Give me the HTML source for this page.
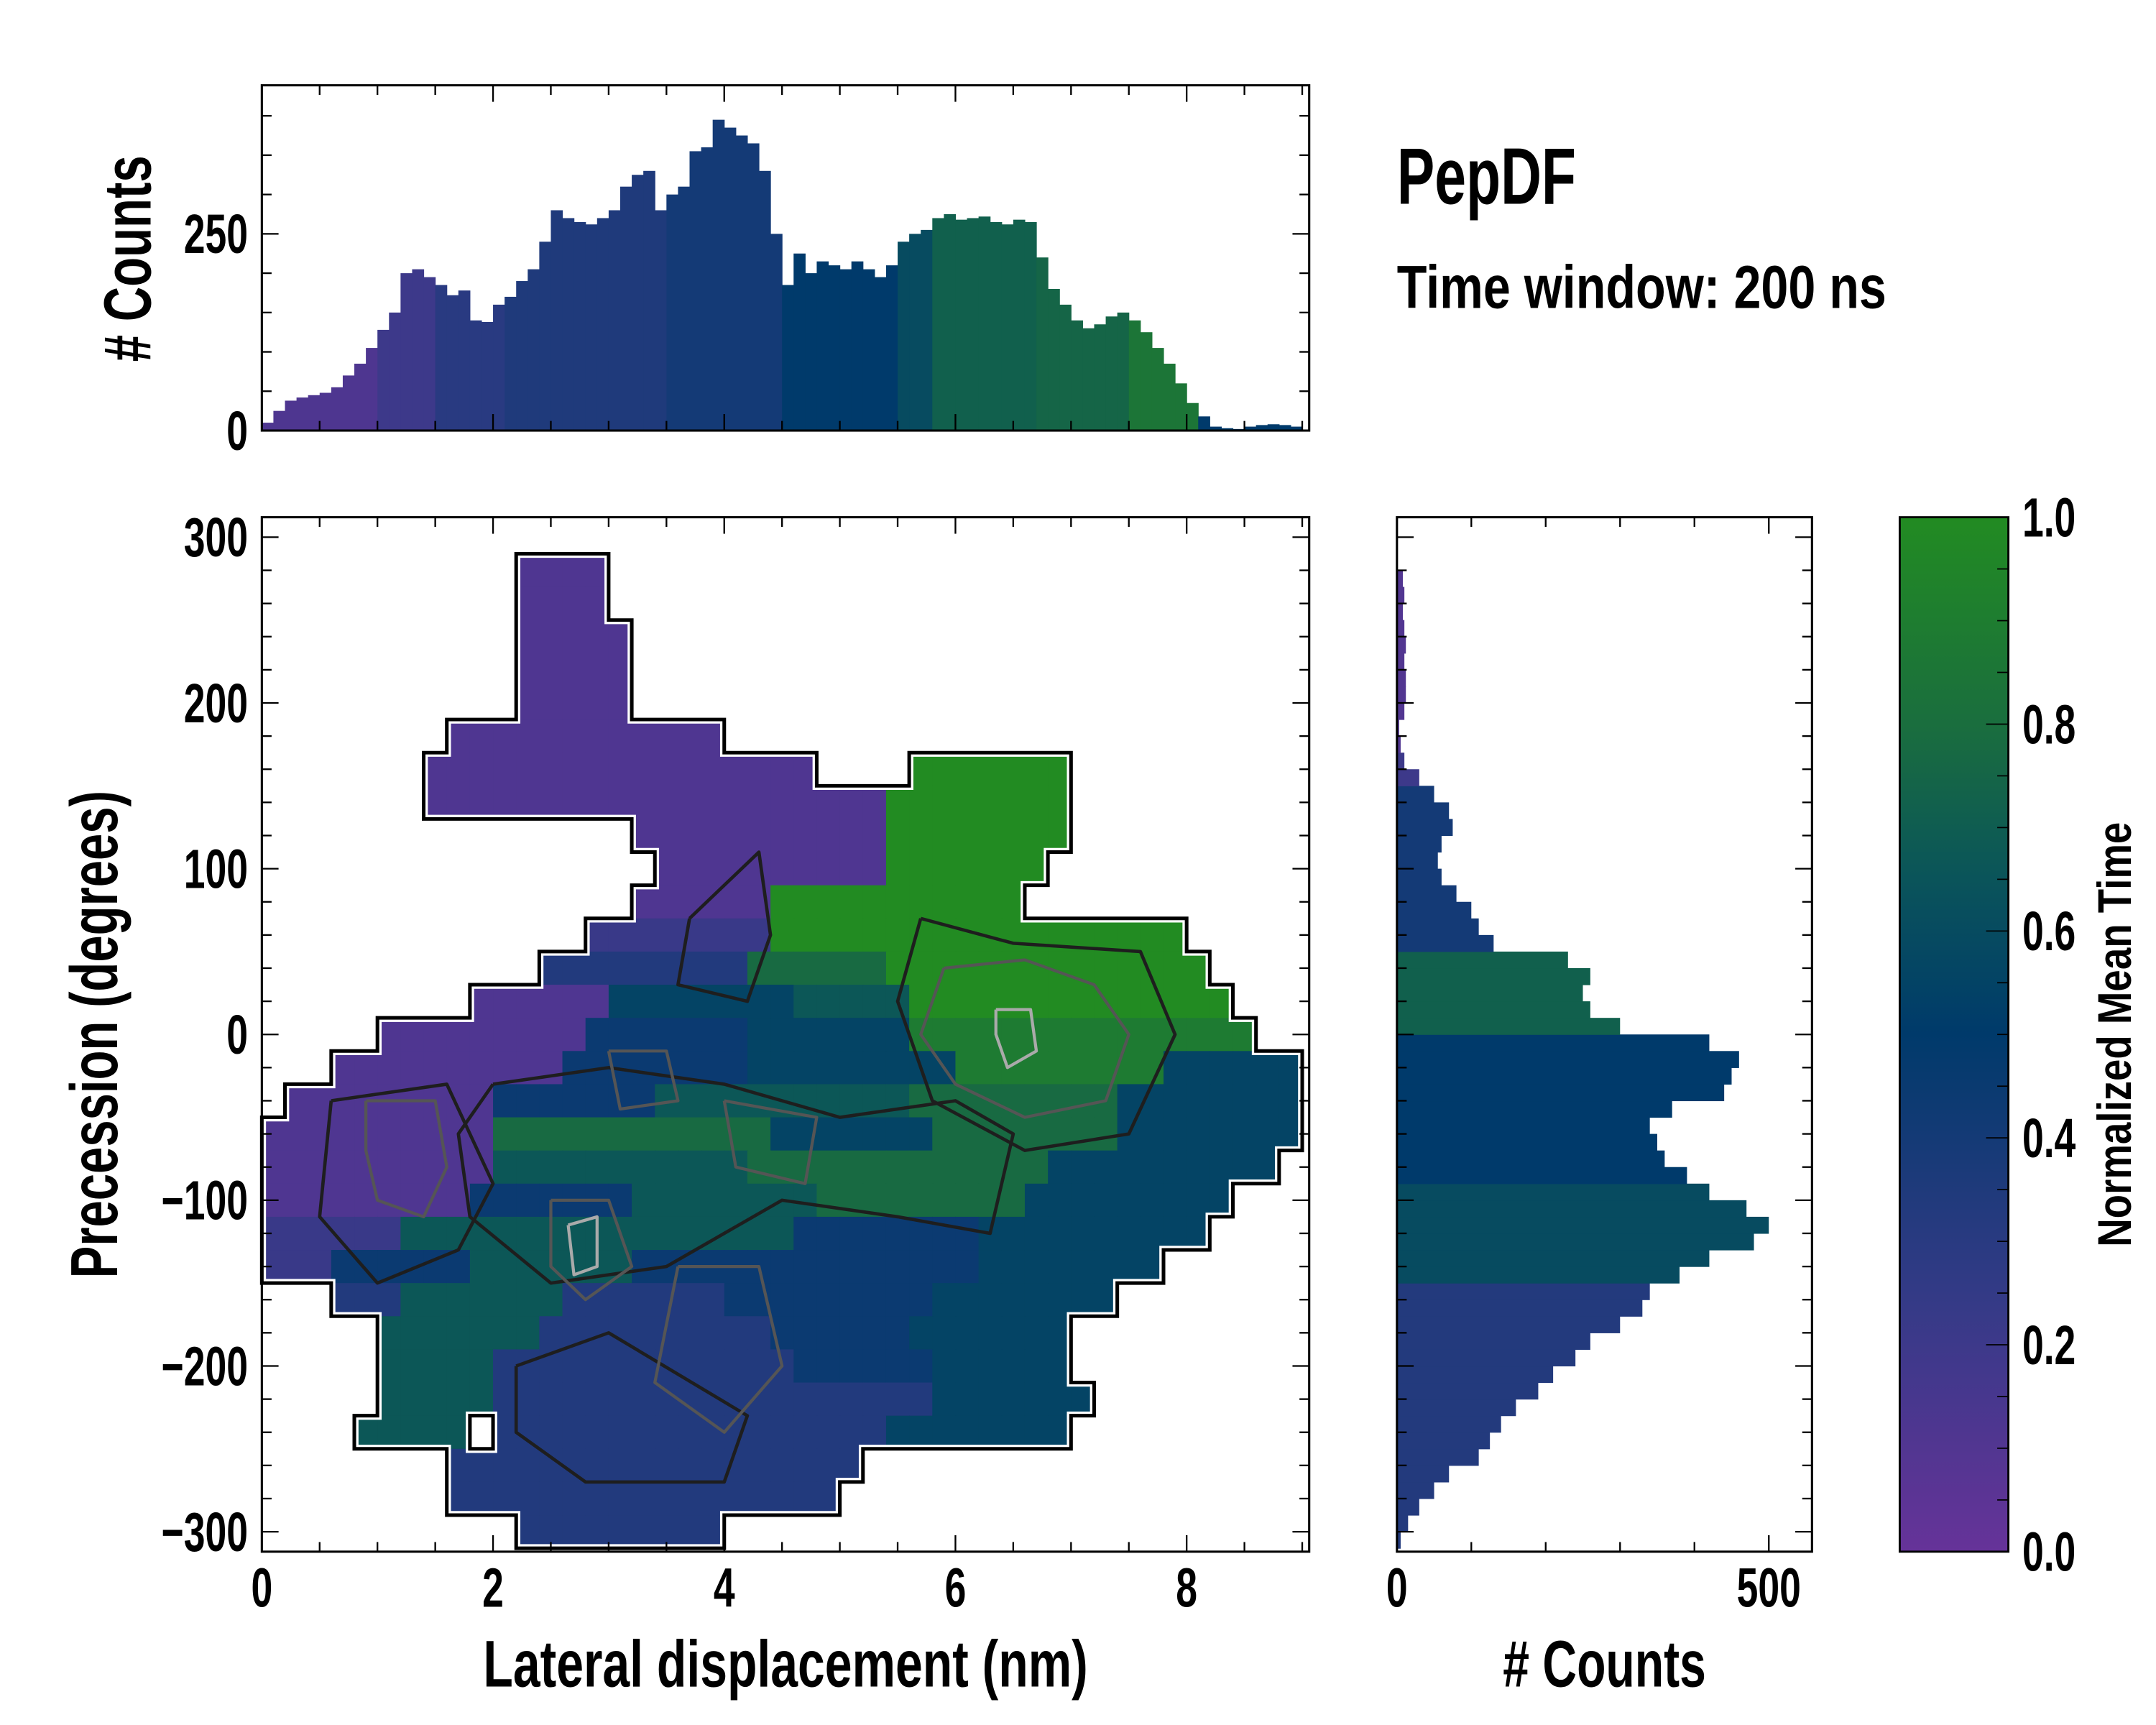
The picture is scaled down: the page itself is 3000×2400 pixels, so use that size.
<!DOCTYPE html>
<html><head><meta charset="utf-8"><style>
html,body{margin:0;padding:0;background:#fff;}
svg{display:block;}
text{font-family:"Liberation Sans Narrow","Liberation Sans",sans-serif;font-weight:bold;fill:#000;}
</style></head><body>
<svg id="fig" xmlns="http://www.w3.org/2000/svg" width="3000" height="2400" viewBox="0 0 1548 1254" preserveAspectRatio="none">
<rect x="0" y="0" width="1548" height="1254" fill="#fff"/>
<g id="heat"></g>
<g id="contours"></g>
<g id="tophist"></g>
<g id="righthist"></g>
<g id="cbar"></g>
<g id="axes"></g>
<text transform="translate(1003,148) scale(0.7,1)" font-size="58">PepDF</text>
<text transform="translate(1003,224) scale(0.8,1)" font-size="44">Time window: 200 ns</text>
<text transform="translate(564,1226) scale(0.73,1)" font-size="48" text-anchor="middle">Lateral displacement (nm)</text>
<text transform="translate(1152,1226) scale(0.71,1)" font-size="48" text-anchor="middle"># Counts</text>
<text transform="translate(84,752) rotate(-90) scale(0.73,1)" font-size="48" text-anchor="middle">Precession (degrees)</text>
<text transform="translate(108,188) rotate(-90) scale(0.73,1)" font-size="48" text-anchor="middle"># Counts</text>
<text transform="translate(1530,752) rotate(-90) scale(0.84,1)" font-size="34" text-anchor="middle">Normalized Mean Time</text>
</svg>
<script>
// ---------- data ----------
const topBinWidth = 0.1;
const topCounts = [10,25,38,42,45,48,55,70,85,105,128,150,200,205,195,185,172,178,140,138,160,170,190,205,240,280,270,265,262,270,280,310,325,330,280,300,310,355,360,395,385,375,365,330,250,185,225,200,215,210,205,215,205,195,210,240,250,255,270,275,268,270,272,265,262,268,265,220,180,160,140,130,135,145,150,140,125,105,85,60,35,18,5,3,2,5,7,8,7,5];
const topValues = [0.12,0.12,0.12,0.12,0.12,0.12,0.12,0.12,0.12,0.12,0.2,0.2,0.2,0.2,0.2,0.3,0.3,0.3,0.3,0.3,0.3,0.35,0.35,0.35,0.35,0.35,0.35,0.35,0.35,0.35,0.35,0.35,0.35,0.35,0.35,0.4,0.4,0.4,0.4,0.4,0.4,0.4,0.4,0.4,0.4,0.5,0.5,0.5,0.5,0.5,0.5,0.5,0.5,0.5,0.5,0.6,0.6,0.6,0.72,0.72,0.72,0.72,0.72,0.72,0.72,0.72,0.72,0.75,0.75,0.75,0.75,0.75,0.75,0.75,0.75,0.85,0.85,0.85,0.85,0.85,0.85,0.5,0.5,0.5,0.5,0.5,0.5,0.5,0.5,0.5];
const rightBinStart = -310;
const rightBinWidth = 10;
const rightCounts = [5,15,30,50,70,110,125,140,160,190,210,240,260,300,330,340,380,420,480,500,470,420,390,360,350,340,370,440,450,460,420,300,260,250,260,230,130,110,100,80,60,55,60,75,70,50,30,10,5,3,10,12,12,10,12,10,8,10,8,0];
const rightValues = [0.33,0.33,0.33,0.33,0.33,0.33,0.33,0.33,0.33,0.33,0.33,0.33,0.33,0.33,0.33,0.33,0.6,0.6,0.6,0.6,0.6,0.6,0.5,0.5,0.5,0.5,0.5,0.5,0.5,0.5,0.5,0.72,0.72,0.72,0.72,0.72,0.4,0.4,0.4,0.4,0.4,0.4,0.4,0.4,0.4,0.4,0.2,0.2,0.1,0.1,0.1,0.1,0.1,0.1,0.1,0.1,0.1,0.1,0.1,0.1];
// heat grid: cells 0.2 nm x 20 deg; row 0 centred at 300 deg; runs [colStart,colEnd,level 0-9]
const cellW = 0.2, cellH = 20, rowTop = 300;
const heatRuns = [
 [],
 [[11,14,1]],
 [[11,14,1]],
 [[11,15,1]],
 [[11,15,1]],
 [[11,15,1]],
 [[8,19,1]],
 [[7,23,1],[28,34,9]],
 [[7,26,1],[27,34,9]],
 [[16,26,1],[27,34,9]],
 [[17,26,1],[27,33,9]],
 [[16,21,1],[22,32,9]],
 [[14,21,2],[22,39,9]],
 [[12,20,3],[21,26,7],[27,40,9]],
 [[9,14,1],[15,22,5],[23,27,6],[28,41,9]],
 [[5,13,1],[14,20,4],[21,27,5],[28,42,8]],
 [[3,12,1],[13,20,4],[21,29,5],[30,38,8],[39,44,5]],
 [[1,9,1],[10,16,4],[17,27,6],[28,36,7],[37,44,5]],
 [[0,9,1],[10,21,7],[22,28,5],[29,36,7],[37,44,5]],
 [[0,9,1],[10,20,6],[21,26,7],[27,33,7],[34,43,5]],
 [[0,8,1],[9,15,4],[16,23,6],[24,32,7],[33,41,5]],
 [[0,5,2],[6,22,6],[23,30,4],[31,40,5]],
 [[0,2,2],[3,8,4],[9,15,6],[16,30,4],[31,38,5]],
 [[3,5,3],[6,12,6],[13,19,3],[20,28,4],[29,36,5]],
 [[5,11,6],[12,21,3],[22,27,4],[28,34,5]],
 [[5,9,6],[10,22,3],[23,28,4],[29,34,5]],
 [[5,9,6],[10,28,3],[29,35,5]],
 [[4,8,6],[10,26,3],[27,34,5]],
 [[8,25,3]],
 [[8,24,3]],
 [[11,19,3]]
];
const contourDark = [
 [[2.0,-30],[3.0,-20],[4.0,-30],[5.0,-50],[6.0,-40],[6.5,-60],[6.3,-120],[5.5,-110],[4.5,-100],[3.5,-140],[2.5,-150],[1.8,-110],[1.7,-60],[2.0,-30]],
 [[2.2,-200],[3.0,-180],[4.2,-230],[4.0,-270],[2.8,-270],[2.2,-240],[2.2,-200]],
 [[3.7,70],[4.3,110],[4.4,60],[4.2,20],[3.6,30],[3.7,70]],
 [[0.6,-40],[1.6,-30],[2.0,-90],[1.7,-130],[1.0,-150],[0.5,-110],[0.6,-40]],
 [[5.7,70],[6.5,55],[7.6,50],[7.9,0],[7.5,-60],[6.6,-70],[5.8,-40],[5.5,20],[5.7,70]]
];
const contourGrey = [
 [[0.9,-40],[1.5,-40],[1.6,-80],[1.4,-110],[1.0,-100],[0.9,-70],[0.9,-40]],
 [[2.5,-100],[3.0,-100],[3.2,-140],[2.8,-160],[2.5,-140],[2.5,-100]],
 [[5.9,40],[6.6,45],[7.2,30],[7.5,0],[7.3,-40],[6.6,-50],[6.0,-30],[5.7,0],[5.9,40]],
 [[3.6,-140],[4.3,-140],[4.5,-200],[4.0,-240],[3.4,-210],[3.6,-140]],
 [[3.0,-10],[3.5,-10],[3.6,-40],[3.1,-45],[3.0,-10]],
 [[4.0,-40],[4.8,-50],[4.7,-90],[4.1,-80],[4.0,-40]]
];
const contourLight = [
 [[6.35,15],[6.65,15],[6.7,-10],[6.45,-20],[6.35,0],[6.35,15]],
 [[2.65,-115],[2.9,-110],[2.9,-140],[2.7,-145],[2.65,-115]]
];
const topYTicks = [0, 250];
const mainXTicks = [0,2,4,6,8];
const mainYTicks = [300,200,100,0,-100,-200,-300];
const rightXTicks = [0,500];
const cbTicks = [0.0,0.2,0.4,0.6,0.8,1.0];

// ---------- scales ----------
const NS = "http://www.w3.org/2000/svg";
const mx = v => 188 + 83*v;
const my = v => 752 - 1.205*v;
const ty = v => 313 - 0.572*v;
const rx = v => 1003 + 0.534*v;
const cy = v => 1128 - 752*v;
const stops = [[0,[102,51,153]],[0.25,[51,58,134]],[0.5,[0,58,107]],[0.65,[10,84,90]],[0.8,[26,110,62]],[1,[34,139,34]]];
function cmap(v){
  v=Math.max(0,Math.min(1,v));
  for(let i=0;i<stops.length-1;i++){
    const a=stops[i],b=stops[i+1];
    if(v<=b[0]){const t=(v-a[0])/(b[0]-a[0]);
      return "rgb("+a[1].map((c,k)=>Math.round(c+(b[1][k]-c)*t)).join(",")+")";}
  }
  return "rgb(34,139,34)";
}
function el(tag, attrs, parent){const e=document.createElementNS(NS,tag);for(const k in attrs)e.setAttribute(k,attrs[k]);parent.appendChild(e);return e;}

// ---------- heatmap ----------
const heat = document.getElementById('heat');
const filled = {};
heatRuns.forEach((runs,r)=>{
  runs.forEach(run=>{
    for(let c=run[0];c<=run[1];c++){
      filled[r+","+c]=true;
      const x0=mx(c*cellW), x1=mx((c+1)*cellW);
      const yTop=my(rowTop-r*cellH+cellH/2), yBot=my(rowTop-r*cellH-cellH/2);
      const e=el('rect',{x:x0,y:yTop,width:x1-x0+0.4,height:yBot-yTop+0.4,fill:cmap(run[2]/9)},heat);
      
      
    }
  });
});
const cont = document.getElementById('contours');
let bd="";
Object.keys(filled).forEach(k=>{
  const [r,c]=k.split(",").map(Number);
  const x0=mx(c*cellW), x1=mx((c+1)*cellW);
  const yT=my(rowTop-r*cellH+cellH/2), yB=my(rowTop-r*cellH-cellH/2);
  if(!filled[(r-1)+","+c]) bd+=`M${x0},${yT}L${x1},${yT}`;
  if(!filled[(r+1)+","+c]) bd+=`M${x0},${yB}L${x1},${yB}`;
  if(!filled[r+","+(c-1)]) bd+=`M${x0},${yT}L${x0},${yB}`;
  if(!filled[r+","+(c+1)]) bd+=`M${x1},${yT}L${x1},${yB}`;
});
const bw=el('path',{d:bd,stroke:'#fff','stroke-width':6,fill:'none','stroke-linecap':'square'},cont);


const bp=el('path',{d:bd,stroke:'#000','stroke-width':2.6,fill:'none','stroke-linecap':'square'},cont);


function drawLines(arr,color,w,name){
  arr.forEach(pts=>{
    const d=pts.map((p,i)=>(i?"L":"M")+mx(p[0])+","+my(p[1])).join("");
    const p=el('path',{d:d,stroke:color,'stroke-width':w,fill:'none','stroke-linejoin':'round'},cont);
    
    
  });
}
drawLines(contourDark,'#1e1e1e',2.4,'contour-dark');
drawLines(contourGrey,'#555',2.2,'contour-grey');
drawLines(contourLight,'#aaa',2.2,'contour-light');

// ---------- top histogram ----------
const th=document.getElementById('tophist');
topCounts.forEach((c,i)=>{
  const x0=mx(i*topBinWidth), x1=mx((i+1)*topBinWidth);
  const b=el('rect',{x:x0,y:ty(c),width:x1-x0+0.3,height:ty(0)-ty(c),fill:cmap(topValues[i])},th);
  
  
});
// ---------- right histogram ----------
const rh=document.getElementById('righthist');
rightCounts.forEach((c,i)=>{
  const lo=rightBinStart+i*rightBinWidth, hi=lo+rightBinWidth;
  const b=el('rect',{x:rx(0),y:my(hi),width:rx(c)-rx(0),height:my(lo)-my(hi)+0.3,fill:cmap(rightValues[i])},rh);
  
  
});
// ---------- colorbar ----------
const cb=document.getElementById('cbar');
const defs=el('defs',{},cb);
const lg=el('linearGradient',{id:'cg',x1:0,y1:1,x2:0,y2:0},defs);
for(let i=0;i<=20;i++){el('stop',{offset:i/20,'stop-color':cmap(i/20)},lg);}
const cr=el('rect',{x:1364,y:376,width:78,height:752,fill:'url(#cg)',stroke:'#000','stroke-width':1.5},cb);



// ---------- axes ----------
const ax=document.getElementById('axes');
function frame(x0,y0,x1,y1,name){
  const r=el('rect',{x:x0,y:y0,width:x1-x0,height:y1-y0,fill:'none',stroke:'#000','stroke-width':1.6},ax);
  
  
}
function line(x1,y1,x2,y2,w){el('line',{x1,y1,x2,y2,stroke:'#000','stroke-width':w||1.2},ax);}
function label(x,y,t,anchor,size,name){
  const e=el('text',{transform:`translate(${x},${y}) scale(0.69,1)`,'text-anchor':anchor,'font-size':size},ax);e.textContent=t;
  
  
}
frame(188,62,940,313,'top-hist-frame');
frame(188,376,940,1128,'main-frame');
frame(1003,376,1301,1128,'right-hist-frame');
for(let v=0; v<=9.001; v+=0.5){
  const X=mx(v), major=Math.abs(v/2-Math.round(v/2))<1e-6, L=major?12:7;
  line(X,1128,X,1128-L); line(X,376,X,376+L);
  line(X,313,X,313-L); line(X,62,X,62+L);
}
mainXTicks.forEach(v=>label(mx(v),1168,String(v),'middle',40,'x-tick-label'));
for(let v=-300; v<=300; v+=20){
  const Y=my(v), major=v%100===0, L=major?12:7;
  line(188,Y,188+L,Y); line(940,Y,940-L,Y);
  line(1003,Y,1003+L,Y); line(1301,Y,1301-L,Y);
}
mainYTicks.forEach(v=>label(178,my(v)+14,(v<0?"\u2212":"")+Math.abs(v),'end',40,'y-tick-label'));
for(let v=0; v<=430; v+=50){
  const Y=ty(v), major=v%250===0, L=major?12:7;
  line(188,Y,188+L,Y); line(940,Y,940-L,Y);
}
topYTicks.forEach(v=>label(178,ty(v)+14,String(v),'end',40,'top-y-tick-label'));
for(let v=0; v<=550; v+=100){
  const X=rx(v), major=v%500===0, L=major?12:7;
  line(X,1128,X,1128-L); line(X,376,X,376+L);
}
rightXTicks.forEach(v=>label(rx(v),1168,String(v),'middle',40,'right-x-tick-label'));
for(let i=0;i<=20;i++){
  const v=i/20, Y=cy(v), major=i%4===0, L=major?16:8;
  line(1442,Y,1442-L,Y,0.9);
}
cbTicks.forEach(v=>label(1452,cy(v)+14,v.toFixed(1),'start',40,'colorbar-tick-label'));
</script>
</body></html>
